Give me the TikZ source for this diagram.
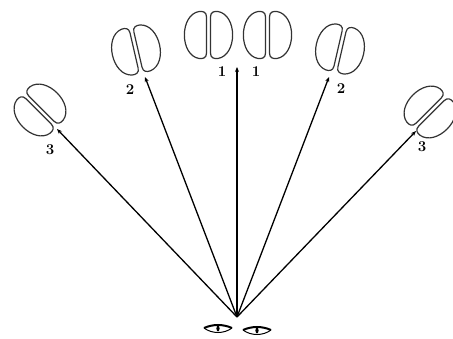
\documentclass[tikz,border=0pt]{standalone}
\usetikzlibrary{positioning,arrows.meta}

\begin{document}
\begin{tikzpicture}[x=1pt, y=1pt, line width=1.3pt, >={Stealth[length=5pt,width=4pt]}]
% Definition of styles:
\tikzset{%
  input/.style  = {coordinate}, % arrow end
  num/.style    = {font=\bfseries\fontsize{15}{17}\selectfont, inner sep=0pt},
  half/.style   = {draw=black!80, line width=1.2pt},
  halves/.pic   = {% two halves of one oval
    \draw[half] (2,18) .. controls (2,23) and (5.5,24) .. (9.5,23.5)
      .. controls (29,20) and (29,-20) .. (9.5,-23.5)
      .. controls (5.5,-24) and (2,-23) .. (2,-18) -- cycle;
    \draw[half, xscale=-1] (2,18) .. controls (2,23) and (5.5,24) .. (9.5,23.5)
      .. controls (29,20) and (29,-20) .. (9.5,-23.5)
      .. controls (5.5,-24) and (2,-23) .. (2,-18) -- cycle;
  },
  eye/.pic      = {%
    \draw[line width=2pt] (-14,1) .. controls (-5,5) and (5,5) .. (14,1);
    \draw[line width=1pt] (-14,1) .. controls (-6,-5) and (6,-5) .. (14,1);
    \fill (0,0.5) ellipse (1.6 and 2.8);
  }
}
\useasboundingbox (0,0) rectangle (453,338);

% viewer
\draw
	node [input] (Viewer) at (237,21) {}
	node [input] (TipC) at (237,271) {}
	node [input] (TipLtwo) at (145,261) {}
	node [input] (TipRtwo) at (329,261) {}
	node [input] (TipLthree) at (57,209) {}
	node [input] (TipRthree) at (416,207) {};

\pic at (218,9) {eye};
\pic at (257,7) {eye};

% pairs
\pic at (208.5,303) {halves};
\pic at (267.5,303) {halves};
\pic[rotate=13] at (136,288) {halves};
\pic[rotate=-13] at (340,289) {halves};
\pic[rotate=45] at (40,228) {halves};
\pic[rotate=-45] at (430,226) {halves};

% labels
\draw
	node [num] (OneL) at (222,266) {1}
	node [num] (OneR) at (256,266) {1}
	node [num] (TwoL) at (130,248) {2}
	node [num] (TwoR) at (341,249) {2}
	node [num] (ThreeL) at (50,188) {3}
	node [num] (ThreeR) at (422,191) {3};

\draw[->](Viewer) -- (TipC);
\draw[->](Viewer) -- (TipLtwo);
\draw[->](Viewer) -- (TipRtwo);
\draw[->](Viewer) -- (TipLthree);
\draw[->](Viewer) -- (TipRthree);

\end{tikzpicture}
\end{document}
